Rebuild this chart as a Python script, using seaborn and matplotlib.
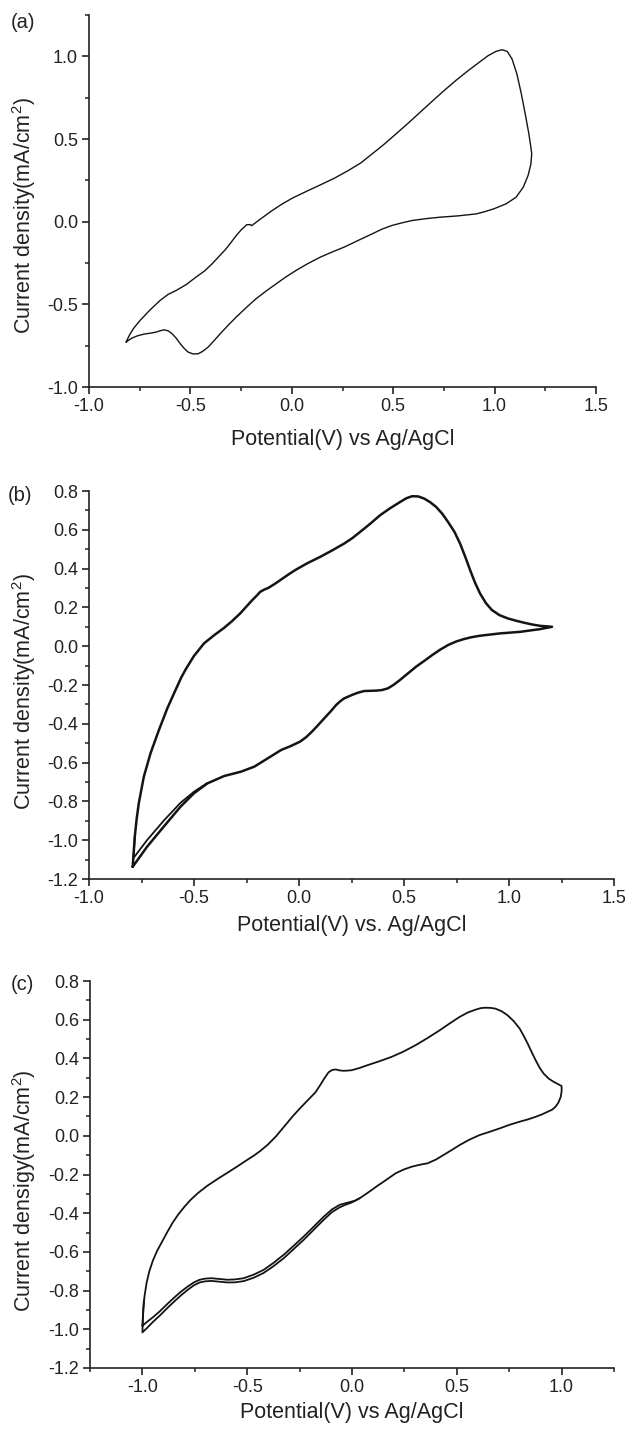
import numpy as np
import pandas as pd
import matplotlib
matplotlib.use("Agg")
import matplotlib.pyplot as plt
from matplotlib.ticker import MultipleLocator
import seaborn as sns

# (a) one CV scan, closed loop (potential V, current mA/cm2)
a_pot = [-0.817, -0.800, -0.780, -0.748, -0.700, -0.649, -0.610, -0.570, -0.520, -0.472,
         -0.430, -0.393, -0.355, -0.324, -0.295, -0.274, -0.250, -0.232, -0.222, -0.205,
         -0.198, -0.150, -0.097, -0.050, 0.002, 0.070, 0.140, 0.210, 0.278, 0.340,
         0.396, 0.455, 0.514, 0.575, 0.633, 0.692, 0.751, 0.810, 0.869, 0.920,
         0.968, 1.007, 1.037, 1.062, 1.086, 1.110, 1.132, 1.151, 1.169, 1.179,
         1.183, 1.179, 1.165, 1.141, 1.106, 1.057, 0.997, 0.950, 0.909, 0.820,
         0.731, 0.660, 0.593, 0.540, 0.494, 0.445, 0.396, 0.330, 0.258, 0.200,
         0.140, 0.080, 0.021, -0.030, -0.077, -0.125, -0.176, -0.225, -0.274, -0.315,
         -0.353, -0.385, -0.412, -0.440, -0.462, -0.487, -0.511, -0.532, -0.550, -0.570,
         -0.590, -0.610, -0.629, -0.650, -0.669, -0.700, -0.728, -0.760, -0.790, -0.817]
a_cur = [-0.728, -0.685, -0.645, -0.597, -0.535, -0.476, -0.440, -0.416, -0.380, -0.335,
         -0.298, -0.255, -0.205, -0.164, -0.118, -0.084, -0.050, -0.030, -0.018, -0.018,
         -0.024, 0.020, 0.067, 0.105, 0.142, 0.182, 0.222, 0.263, 0.309, 0.355,
         0.410, 0.468, 0.531, 0.597, 0.662, 0.728, 0.793, 0.855, 0.913, 0.960,
         1.004, 1.030, 1.040, 1.030, 0.984, 0.893, 0.772, 0.652, 0.531, 0.450,
         0.410, 0.349, 0.279, 0.208, 0.148, 0.108, 0.078, 0.060, 0.047, 0.035,
         0.027, 0.018, 0.007, -0.008, -0.023, -0.045, -0.074, -0.112, -0.154, -0.183,
         -0.215, -0.253, -0.295, -0.335, -0.376, -0.418, -0.466, -0.520, -0.577, -0.628,
         -0.678, -0.722, -0.758, -0.785, -0.799, -0.800, -0.789, -0.765, -0.738, -0.705,
         -0.678, -0.660, -0.654, -0.660, -0.668, -0.675, -0.680, -0.690, -0.705, -0.728]

# (b) first scan (closed loop) and the part of the second scan that separates
b_pot = [-0.792, -0.787, -0.782, -0.773, -0.763, -0.739, -0.707, -0.667, -0.627, -0.588,
         -0.560, -0.540, -0.500, -0.452, -0.400, -0.356, -0.318, -0.280, -0.250, -0.223,
         -0.200, -0.185, -0.165, -0.147, -0.120, -0.090, -0.050, -0.014, 0.040, 0.100,
         0.160, 0.215, 0.255, 0.291, 0.340, 0.386, 0.435, 0.481, 0.510, 0.538,
         0.568, 0.596, 0.625, 0.653, 0.682, 0.710, 0.740, 0.767, 0.792, 0.815,
         0.838, 0.862, 0.890, 0.919, 0.955, 0.995, 1.035, 1.072, 1.110, 1.148,
         1.205, 1.148, 1.100, 1.053, 1.005, 0.957, 0.910, 0.862, 0.820, 0.786,
         0.748, 0.710, 0.672, 0.634, 0.596, 0.557, 0.519, 0.481, 0.452, 0.424,
         0.395, 0.367, 0.338, 0.310, 0.280, 0.253, 0.230, 0.215, 0.195, 0.177,
         0.150, 0.120, 0.090, 0.062, 0.035, 0.005, -0.040, -0.085, -0.149, -0.213,
         -0.277, -0.356, -0.436, -0.500, -0.564, -0.644, -0.723, -0.792]
b_cur = [-1.137, -1.060, -0.982, -0.890, -0.810, -0.673, -0.552, -0.432, -0.320, -0.226,
         -0.160, -0.120, -0.050, 0.015, 0.060, 0.095, 0.130, 0.169, 0.205, 0.237,
         0.262, 0.280, 0.292, 0.300, 0.318, 0.340, 0.370, 0.395, 0.428, 0.460,
         0.495, 0.529, 0.558, 0.589, 0.632, 0.675, 0.712, 0.743, 0.762, 0.773,
         0.772, 0.761, 0.742, 0.718, 0.683, 0.640, 0.590, 0.529, 0.460, 0.392,
         0.328, 0.272, 0.222, 0.186, 0.160, 0.143, 0.131, 0.121, 0.112, 0.105,
         0.100, 0.088, 0.081, 0.074, 0.070, 0.066, 0.060, 0.054, 0.046, 0.037,
         0.024, 0.006, -0.018, -0.046, -0.076, -0.106, -0.140, -0.174, -0.198, -0.217,
         -0.226, -0.229, -0.230, -0.231, -0.240, -0.251, -0.262, -0.269, -0.285, -0.303,
         -0.337, -0.372, -0.408, -0.440, -0.468, -0.492, -0.515, -0.535, -0.578, -0.621,
         -0.647, -0.669, -0.707, -0.758, -0.827, -0.930, -1.033, -1.137]
b2_pot = [-0.436, -0.500, -0.564, -0.644, -0.723, -0.789, -0.785, -0.782]
b2_cur = [-0.705, -0.750, -0.807, -0.899, -0.999, -1.093, -1.040, -0.982]

# (c) first scan (closed loop) and the separated part of the second scan
c_pot = [-1.000, -0.996, -0.990, -0.980, -0.967, -0.950, -0.930, -0.905, -0.880, -0.855,
         -0.830, -0.799, -0.770, -0.735, -0.690, -0.640, -0.590, -0.544, -0.505, -0.465,
         -0.435, -0.401, -0.362, -0.322, -0.285, -0.250, -0.210, -0.174, -0.150, -0.130,
         -0.112, -0.095, -0.078, -0.060, -0.040, -0.020, -0.002, 0.035, 0.074, 0.130,
         0.189, 0.245, 0.303, 0.360, 0.418, 0.465, 0.513, 0.552, 0.590, 0.615,
         0.637, 0.662, 0.685, 0.715, 0.742, 0.772, 0.800, 0.820, 0.838, 0.857,
         0.876, 0.895, 0.914, 0.938, 0.962, 0.985, 1.000, 1.000, 0.996, 0.985,
         0.971, 0.955, 0.933, 0.905, 0.876, 0.840, 0.800, 0.752, 0.704, 0.655,
         0.609, 0.560, 0.513, 0.475, 0.437, 0.400, 0.361, 0.322, 0.284, 0.245,
         0.208, 0.180, 0.151, 0.122, 0.094, 0.065, 0.036, 0.015, -0.002, -0.030,
         -0.059, -0.095, -0.135, -0.183, -0.231, -0.280, -0.326, -0.375, -0.422, -0.470,
         -0.517, -0.555, -0.594, -0.632, -0.670, -0.700, -0.727, -0.755, -0.784, -0.813,
         -0.842, -0.880, -0.918, -0.950, -0.975, -1.000]
c_cur = [-0.982, -0.900, -0.830, -0.760, -0.700, -0.645, -0.595, -0.545, -0.495, -0.448,
         -0.408, -0.366, -0.331, -0.296, -0.258, -0.222, -0.188, -0.156, -0.128, -0.100,
         -0.076, -0.045, -0.002, 0.050, 0.098, 0.140, 0.185, 0.225, 0.265, 0.300,
         0.328, 0.340, 0.343, 0.338, 0.336, 0.337, 0.339, 0.350, 0.365, 0.385,
         0.408, 0.435, 0.468, 0.505, 0.545, 0.580, 0.614, 0.637, 0.652, 0.660,
         0.662, 0.661, 0.657, 0.643, 0.623, 0.592, 0.554, 0.515, 0.477, 0.433,
         0.391, 0.352, 0.322, 0.296, 0.279, 0.266, 0.257, 0.230, 0.202, 0.172,
         0.150, 0.135, 0.124, 0.110, 0.098, 0.085, 0.073, 0.057, 0.038, 0.020,
         0.004, -0.020, -0.048, -0.074, -0.099, -0.123, -0.142, -0.150, -0.160, -0.175,
         -0.194, -0.215, -0.237, -0.258, -0.280, -0.302, -0.323, -0.335, -0.340, -0.348,
         -0.357, -0.380, -0.418, -0.470, -0.521, -0.570, -0.615, -0.657, -0.693, -0.718,
         -0.736, -0.742, -0.744, -0.740, -0.736, -0.738, -0.744, -0.758, -0.779, -0.803,
         -0.830, -0.868, -0.908, -0.938, -0.959, -0.982]
c2_pot = [0.036, -0.002, -0.030, -0.059, -0.095, -0.135, -0.183, -0.231, -0.280, -0.326,
          -0.375, -0.422, -0.470, -0.517, -0.555, -0.594, -0.632, -0.670, -0.700, -0.727,
          -0.755, -0.784, -0.813, -0.842, -0.880, -0.918, -0.950, -0.975, -1.000, -0.997,
          -0.993]
c2_cur = [-0.323, -0.345, -0.356, -0.370, -0.394, -0.434, -0.486, -0.538, -0.587, -0.633,
          -0.674, -0.709, -0.734, -0.751, -0.757, -0.758, -0.754, -0.750, -0.752, -0.758,
          -0.773, -0.796, -0.822, -0.850, -0.889, -0.930, -0.962, -0.990, -1.016, -0.930,
          -0.850]

xlabels = ["Potential(V) vs Ag/AgCl", "Potential(V) vs. Ag/AgCl", "Potential(V) vs Ag/AgCl"]
ylabels = ["Current density(mA/cm$^2$)", "Current density(mA/cm$^2$)",
           "Current densigy(mA/cm$^2$)"]
tags = ["(a)", "(b)", "(c)"]

sns.set_style("ticks")
plt.rcParams["font.family"] = ["Liberation Sans", "DejaVu Sans"]
plt.rcParams["mathtext.default"] = "regular"
plt.rcParams["xtick.direction"] = "out"
plt.rcParams["ytick.direction"] = "out"

fig = plt.figure(figsize=(6.25, 14.33), dpi=100)
W, H = 625.0, 1433.0
# axes boxes in pixels: left, right, top, bottom
boxes = [(89, 596, 15, 387), (89, 614, 491, 879), (90, 614, 981, 1368)]
axes = []
for (l, r, t, b) in boxes:
    axes.append(fig.add_axes([l / W, 1 - b / H, (r - l) / W, (b - t) / H]))

line_kw = dict(sort=False, estimator=None, color="#141414", legend=False)

def draw(ax, pot, cur, lw):
    df = pd.DataFrame({"pot": pot, "cur": cur})
    sns.lineplot(data=df, x="pot", y="cur", ax=ax, linewidth=lw, **line_kw)

draw(axes[0], a_pot, a_cur, 1.0)
draw(axes[1], b_pot, b_cur, 1.8)
draw(axes[1], b2_pot, b2_cur, 1.3)
draw(axes[2], c_pot, c_cur, 1.3)
draw(axes[2], c2_pot, c2_cur, 1.3)

limits = [((-1.0, 1.5), (-1.0, 1.25), 0.5, 0.25, 0.5, 0.25),
          ((-1.0, 1.5), (-1.2, 0.8), 0.5, 0.25, 0.2, 0.1),
          ((-1.25, 1.25), (-1.2, 0.8), 0.5, 0.25, 0.2, 0.1)]
# label anchors in pixels: x label top, y label right edge / centre
xlab_top = [429, 915, 1402]
ylab_right = 38
ylab_mid = [216, 692, 1191]
tag_pos = [(23, 22), (20, 495), (22, 985)]

for i, ax in enumerate(axes):
    xl, yl, xmaj, xmin, ymaj, ymin = limits[i]
    l, r, t, b = boxes[i]
    ax.set_xlim(*xl)
    ax.set_ylim(*yl)
    ax.xaxis.set_major_locator(MultipleLocator(xmaj))
    ax.xaxis.set_minor_locator(MultipleLocator(xmin))
    ax.yaxis.set_major_locator(MultipleLocator(ymaj))
    ax.yaxis.set_minor_locator(MultipleLocator(ymin))
    ax.xaxis.set_major_formatter(plt.FormatStrFormatter("%.1f"))
    ax.yaxis.set_major_formatter(plt.FormatStrFormatter("%.1f"))
    sns.despine(ax=ax)
    for s in ["left", "bottom"]:
        ax.spines[s].set_linewidth(1.2)
        ax.spines[s].set_color("#222222")
    ax.tick_params(which="major", length=5, width=1.2, labelsize=13, colors="#222222", pad=3)
    ax.tick_params(which="minor", length=2.8, width=1.1, colors="#222222")
    ax.set_xlabel(xlabels[i], fontsize=15.5, color="#222222")
    ax.set_ylabel(ylabels[i], fontsize=15.5, color="#222222")
    ax.xaxis.set_label_coords(0.5, (b - xlab_top[i]) / (b - t))
    ax.yaxis.set_label_coords((ylab_right - l) / (r - l), (b - ylab_mid[i]) / (b - t))
    tx, ty = tag_pos[i]
    fig.text(tx / W, 1 - ty / H, tags[i], fontsize=14.5, ha="center", va="center",
             color="#222222")

fig.savefig("out.png", dpi=100)
